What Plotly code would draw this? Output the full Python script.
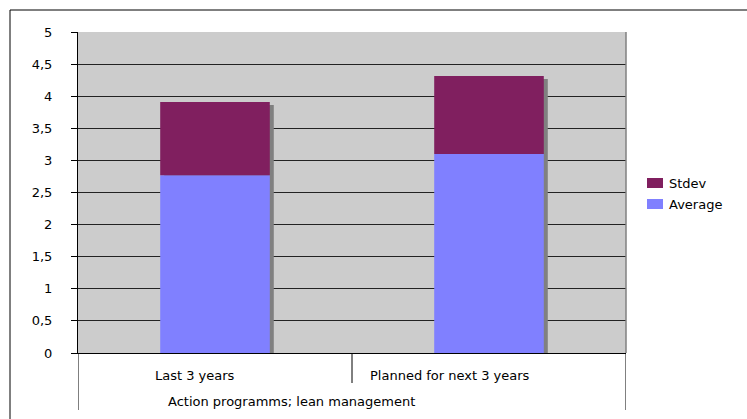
import plotly.graph_objects as go

# ---- data ----
categories = ["Last 3 years", "Planned for next 3 years"]
group_label = "Action programms; lean management"
average = [2.77, 3.10]
stdev = [1.14, 1.215]
y_ticks = [0, 0.5, 1, 1.5, 2, 2.5, 3, 3.5, 4, 4.5, 5]

# ---- layout geometry (pixels) ----
W, H = 747, 419
L, R, T, B = 78, 626, 32, 353
PW, PH = R - L, B - T
FONT = "DejaVu Sans"
FS = 13

def px(x):
    return (x - L) / PW

def py(y):
    return (B - y) / PH

xpos = list(range(len(categories)))
totals = [a + s for a, s in zip(average, stdev)]
bar_w = 0.4
unit_px_x = PW / 2.0
unit_px_y = PH / 5.0
sh_dx = 4 / unit_px_x
sh_dy = 3 / unit_px_y

fig = go.Figure()
# shadow
fig.add_trace(go.Bar(x=xpos, y=[t - sh_dy for t in totals], base=0, width=bar_w,
                     offset=-bar_w / 2 + sh_dx, marker=dict(color="#808080", line_width=0),
                     showlegend=False, hoverinfo="skip"))
fig.add_trace(go.Bar(x=xpos, y=average, base=0, width=bar_w, offset=-bar_w / 2,
                     name="Average", marker=dict(color="#8080FF", line_width=0), showlegend=False))
fig.add_trace(go.Bar(x=xpos, y=stdev, base=average, width=bar_w, offset=-bar_w / 2,
                     name="Stdev", marker=dict(color="#801F5F", line_width=0), showlegend=False))

shapes = []
# outer chart frame
shapes.append(dict(type="rect", xref="paper", yref="paper", x0=px(10), x1=px(900),
                   y0=py(600), y1=py(10), line=dict(color="black", width=1), layer="below"))
# right plot border
shapes.append(dict(type="line", xref="paper", yref="paper", x0=1, x1=1, y0=0, y1=1,
                   line=dict(color="#808080", width=1.5)))
# category dividers
for xd, yb in [(-0.5, 410), (0.5, 383), (1.5, 410)]:
    shapes.append(dict(type="line", xref="x", yref="paper", x0=xd, x1=xd, y0=0, y1=py(yb),
                       line=dict(color="black", width=1)))

annotations = []
shifts = [-20, -39]
for i, c in enumerate(categories):
    annotations.append(dict(x=i, y=py(375), xref="x", yref="paper", text=c, showarrow=False,
                            xanchor="center", yanchor="middle", xshift=shifts[i],
                            font=dict(family=FONT, size=FS, color="black")))
annotations.append(dict(x=0.5, y=py(402), xref="x", yref="paper", text=group_label,
                        showarrow=False, xanchor="center", yanchor="middle", xshift=-61,
                        font=dict(family=FONT, size=FS, color="black")))

# custom legend
leg = [("Stdev", "#801F5F", 183), ("Average", "#8080FF", 204)]
for name, col, yc in leg:
    shapes.append(dict(type="rect", xref="paper", yref="paper", x0=px(647), x1=px(663),
                       y0=py(yc + 5), y1=py(yc - 5), fillcolor=col, line=dict(width=0)))
    annotations.append(dict(x=px(667), y=py(yc), xref="paper", yref="paper", text=name,
                            showarrow=False, xanchor="left", yanchor="middle",
                            font=dict(family=FONT, size=FS, color="black")))

fig.update_layout(
    width=W, height=H,
    margin=dict(l=L, r=W - R, t=T, b=H - B, pad=0),
    paper_bgcolor="white", plot_bgcolor="#CCCCCC",
    barmode="overlay", separators=", ",
    font=dict(family=FONT, size=FS, color="black"),
    shapes=shapes, annotations=annotations,
    showlegend=False,
)
fig.update_xaxes(range=[-0.5, 1.5], showticklabels=False, showgrid=False, zeroline=False,
                 showline=True, linecolor="black", linewidth=1, ticks="", fixedrange=True)
fig.update_yaxes(range=[0, 5], tickvals=y_ticks, showgrid=True, gridcolor="#222222", gridwidth=1,
                 zeroline=False, showline=True, linecolor="black", linewidth=1,
                 ticks="outside", ticklen=6, tickcolor="black", ticklabelstandoff=16,
                 tickfont=dict(family=FONT, size=FS, color="black"), fixedrange=True)

fig.write_html("out.html")
